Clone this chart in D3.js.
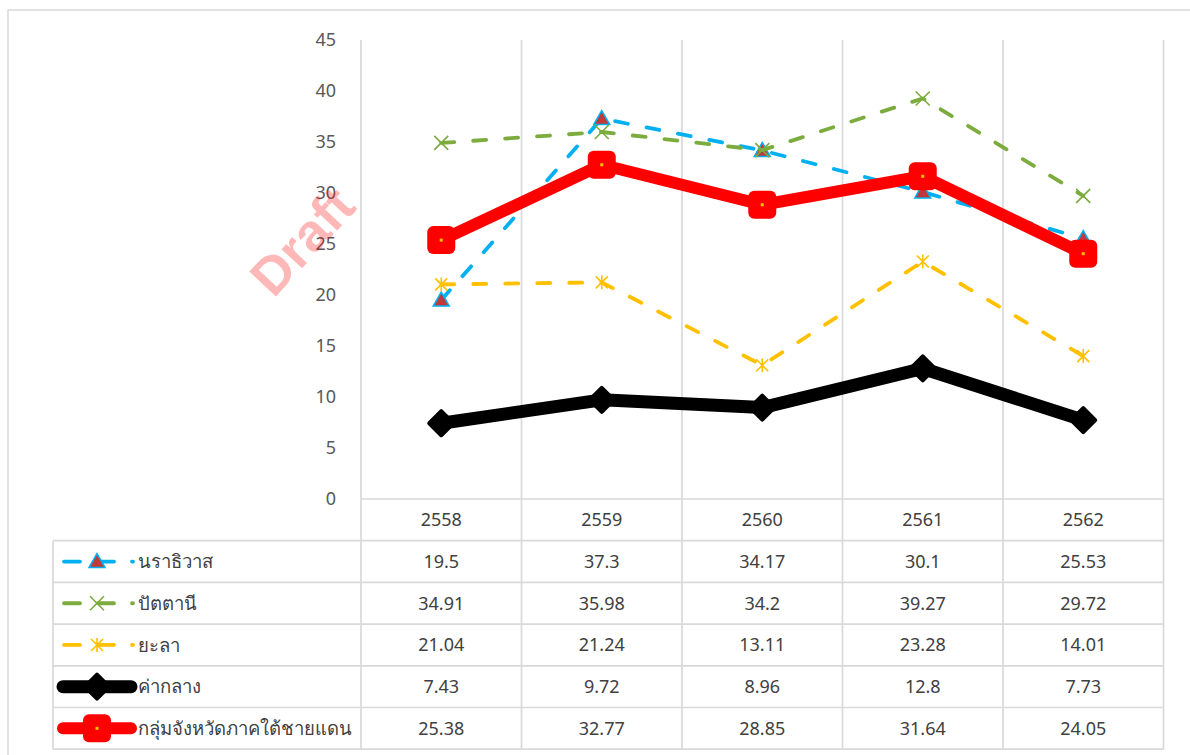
<!DOCTYPE html>
<html>
<head>
<meta charset="utf-8">
<script src="https://cdn.jsdelivr.net/npm/d3@7"></script>
<style>
  html, body { margin: 0; padding: 0; background: #fff; }
  svg { display: block; }
  text { font-family: Tahoma, "Noto Sans", "DejaVu Sans", sans-serif; }
</style>
</head>
<body>
<svg id="chart" width="1190" height="755"></svg>
<script>
// ---- data ----
const years = ["2558", "2559", "2560", "2561", "2562"];
const seriesNames = ["นราธิวาส", "ปัตตานี", "ยะลา", "ค่ากลาง", "กลุ่มจังหวัดภาคใต้ชายแดน"];
const narathiwat = [19.5, 37.3, 34.17, 30.1, 25.53];
const pattani = [34.91, 35.98, 34.2, 39.27, 29.72];
const yala = [21.04, 21.24, 13.11, 23.28, 14.01];
const median = [7.43, 9.72, 8.96, 12.8, 7.73];
const southernGroup = [25.38, 32.77, 28.85, 31.64, 24.05];
const yTicks = [0, 5, 10, 15, 20, 25, 30, 35, 40, 45];

const seriesValues = [narathiwat, pattani, yala, median, southernGroup];
const styles = [
  { color: "#00b0f0", width: 3.8, dash: "13,19", marker: "triangle" },
  { color: "#7cab3e", width: 3.8, dash: "13,19", marker: "x" },
  { color: "#ffc000", width: 3.8, dash: "13,19", marker: "star" },
  { color: "#000000", width: 13, dash: null, marker: "diamond" },
  { color: "#ff0000", width: 12, dash: null, marker: "square" }
];

// ---- layout ----
const svg = d3.select("#chart");
const plotLeft = 361, plotRight = 1163.5, plotTop = 40, plotBottom = 499;
const tableLeft = 53, rowH = 41.7;
const gridColor = "#d9d9d9";
const fontSize = "18px";

const x = d3.scaleBand().domain(years).range([plotLeft, plotRight]);
const y = d3.scaleLinear().domain([0, 45]).range([plotBottom, plotTop]);
const cx = d => x(d) + x.bandwidth() / 2;

// outer chart border
svg.append("rect").attr("x", 8).attr("y", 10).attr("width", 1400).attr("height", 900)
  .attr("fill", "none").attr("stroke", gridColor).attr("stroke-width", 1.5);

// y axis labels
const yAxis = d3.axisLeft(y).tickValues(yTicks).tickSize(0).tickPadding(25);
const yg = svg.append("g").attr("transform", `translate(${plotLeft},0)`).call(yAxis);
yg.select(".domain").remove();
yg.selectAll("text").attr("fill", "#595959").style("font-size", fontSize)
  .style("font-family", "Tahoma, 'Noto Sans', 'DejaVu Sans', sans-serif");

// table rows
const tableBottom = plotBottom + rowH * 6;
const g = svg.append("g");
const bounds = years.map(d => x(d)).concat([plotRight]);
bounds.forEach(b => {
  g.append("line").attr("x1", b).attr("x2", b).attr("y1", plotTop).attr("y2", tableBottom)
    .attr("stroke", gridColor).attr("stroke-width", 1.7);
});
g.append("line").attr("x1", tableLeft).attr("x2", tableLeft).attr("y1", plotBottom + rowH).attr("y2", tableBottom)
  .attr("stroke", gridColor).attr("stroke-width", 1.7);
g.append("line").attr("x1", plotLeft).attr("x2", plotRight).attr("y1", plotBottom).attr("y2", plotBottom)
  .attr("stroke", gridColor).attr("stroke-width", 1.7);
for (let i = 1; i <= 6; i++) {
  const yy = plotBottom + rowH * i;
  g.append("line").attr("x1", tableLeft).attr("x2", plotRight).attr("y1", yy).attr("y2", yy)
    .attr("stroke", gridColor).attr("stroke-width", 1.7);
}

// category header
svg.append("g").selectAll("text").data(years).join("text")
  .attr("x", d => cx(d)).attr("y", plotBottom + rowH / 2).attr("dy", "0.36em")
  .attr("text-anchor", "middle").attr("fill", "#404040").style("font-size", fontSize)
  .text(d => d);

// table values
seriesValues.forEach((vals, i) => {
  const rowY = plotBottom + rowH * (i + 1) + rowH / 2;
  svg.append("g").selectAll("text").data(vals).join("text")
    .attr("x", (d, j) => cx(years[j])).attr("y", rowY).attr("dy", "0.36em")
    .attr("text-anchor", "middle").attr("fill", "#404040").style("font-size", fontSize)
    .text(d => String(d));
  svg.append("text").attr("x", 138).attr("y", rowY).attr("dy", "0.36em")
    .attr("fill", "#404040").style("font-size", "18.5px").text(seriesNames[i]);
});

// marker drawing
function drawMarker(sel, type, color, px, py) {
  const m = sel.append("g").attr("transform", `translate(${px},${py})`);
  if (type === "triangle") {
    m.append("path").attr("d", "M0,-8 L8,6 L-8,6 Z")
      .attr("fill", "#c0393b").attr("stroke", color).attr("stroke-width", 1.5);
  } else if (type === "x") {
    m.append("path").attr("d", "M-7,-7 L7,7 M-7,7 L7,-7")
      .attr("stroke", color).attr("stroke-width", 1.6).attr("fill", "none");
  } else if (type === "star") {
    m.append("path").attr("d", "M-6,-6 L6,6 M-6,6 L6,-6 M0,-7 L0,7")
      .attr("stroke", color).attr("stroke-width", 1.6).attr("fill", "none");
  } else if (type === "diamond") {
    m.append("path").attr("d", "M0,-12 L12,0 L0,12 L-12,0 Z")
      .attr("fill", color).attr("stroke", color).attr("stroke-width", 4).attr("stroke-linejoin", "round");
  } else if (type === "square") {
    m.append("rect").attr("x", -14).attr("y", -14).attr("width", 28).attr("height", 28).attr("rx", 6)
      .attr("fill", color);
    m.append("rect").attr("x", -1.5).attr("y", -1.5).attr("width", 3).attr("height", 3)
      .attr("fill", "#ffc000");
  }
}

// series lines and markers
const line = d3.line().x((d, j) => cx(years[j])).y(d => y(d));
const plot = svg.append("g");
seriesValues.forEach((vals, i) => {
  const st = styles[i];
  const p = plot.append("path").datum(vals).attr("d", line)
    .attr("fill", "none").attr("stroke", st.color).attr("stroke-width", st.width)
    .attr("stroke-linejoin", "round").attr("stroke-linecap", "round");
  if (st.dash) p.attr("stroke-dasharray", st.dash);
  vals.forEach((v, j) => drawMarker(plot, st.marker, st.color, cx(years[j]), y(v)));
});

// legend keys in table
seriesValues.forEach((vals, i) => {
  const st = styles[i];
  const rowY = plotBottom + rowH * (i + 1) + rowH / 2;
  const lg = svg.append("g");
  if (st.dash) {
    lg.append("line").attr("x1", 64).attr("x2", 134).attr("y1", rowY).attr("y2", rowY)
      .attr("stroke", st.color).attr("stroke-width", st.width).attr("stroke-linecap", "round")
      .attr("stroke-dasharray", "16,18,16,18,1,20");
  } else {
    lg.append("line").attr("x1", 63).attr("x2", 131).attr("y1", rowY).attr("y2", rowY)
      .attr("stroke", st.color).attr("stroke-width", st.width).attr("stroke-linecap", "round");
  }
  drawMarker(lg, st.marker, st.color, 97, rowY);
});

// watermark
svg.append("text").attr("transform", "translate(302,241) rotate(-47)")
  .attr("text-anchor", "middle").attr("dy", "0.35em")
  .attr("fill", "#ff0000").attr("fill-opacity", 0.28)
  .style("font-size", "53px").style("font-weight", "bold")
  .style("font-family", "'Liberation Sans', Arial, sans-serif")
  .text("Draft");
</script>
</body>
</html>
